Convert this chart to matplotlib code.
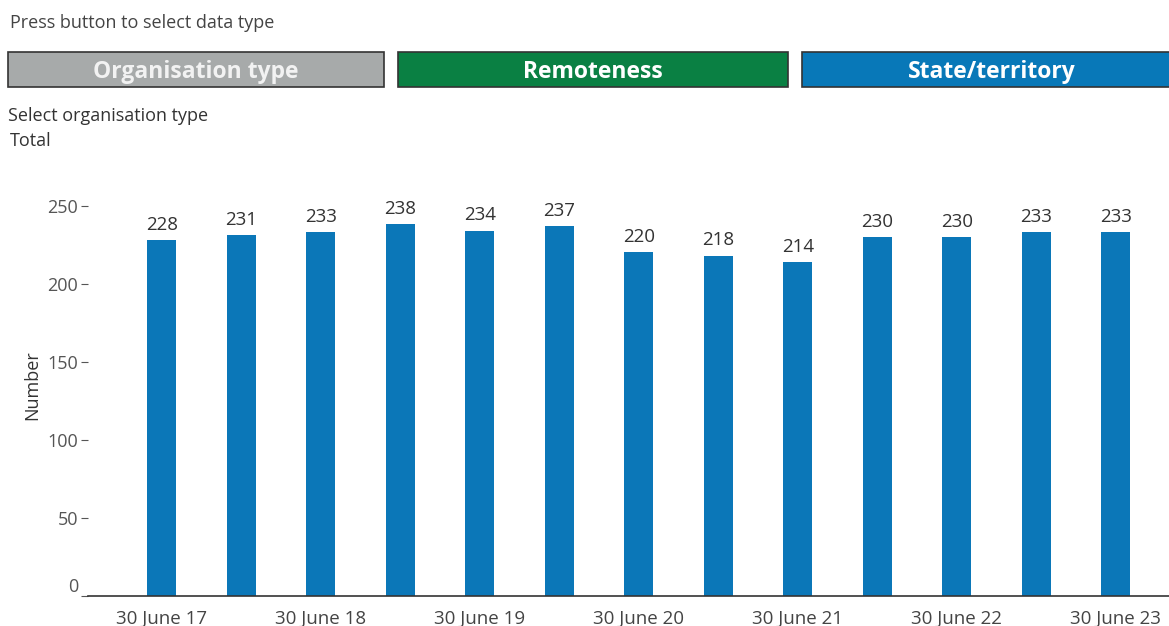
import matplotlib.pyplot as plt
from matplotlib.patches import Rectangle

# half-yearly counts, labelled at each June
values = [228, 231, 233, 238, 234, 237, 220, 218, 214, 230, 230, 233, 233]
june_labels = ["30 June 17", "30 June 18", "30 June 19", "30 June 20",
               "30 June 21", "30 June 22", "30 June 23"]
y_ticks = [0, 50, 100, 150, 200, 250]

buttons = ["Organisation type", "Remoteness", "State/territory"]
button_colors = ["#a7aaaa", "#0a8043", "#0878b8"]

plt.rcParams['font.family'] = ['Open Sans', 'DejaVu Sans']

W, H = 1169, 626
fig = plt.figure(figsize=(W / 100, H / 100), dpi=100)


def px(x, y):
    return x / W, 1 - y / H


# header text
fig.text(*px(10, 23), "Press button to select data type", fontsize=13,
         color="#444444", va="center")

# selector buttons
boxes = [(8, 52, 376, 35), (398, 52, 390, 35), (802, 52, 380, 35)]
for (bx, by, bw, bh), name, col in zip(boxes, buttons, button_colors):
    x0, y1 = px(bx, by + bh)
    fig.patches.append(Rectangle((x0, y1), bw / W, bh / H, transform=fig.transFigure,
                                 facecolor=col, edgecolor="#333333", linewidth=1.2))
    tcol = "#f2f2f2" if name == "Organisation type" else "#ffffff"
    fig.text(*px(bx + bw / 2, by + bh / 2 + 2), name, fontsize=16.5, fontweight="bold",
             color=tcol, ha="center", va="center")

fig.text(*px(8, 116), "Select organisation type", fontsize=13, color="#333333", va="center")
fig.text(*px(10, 141), "Total", fontsize=13, color="#333333", va="center")

# bar chart
ax = fig.add_axes([88 / W, 30 / H, (W - 88) / W, 406 / H])
x = list(range(len(values)))
bars = ax.bar(x, values, width=0.365, color="#0b77b8")
for xi, v in zip(x, values):
    ax.text(xi, v + 4, str(v), ha="center", va="bottom", fontsize=13.5, color="#333333")

ax.set_xlim(-0.93, 12.67)
ax.set_ylim(0, 260)
ax.set_xticks(x[::2])
ax.set_xticklabels(june_labels, fontsize=13.5, color="#444444")
ax.set_yticks(y_ticks)
ax.set_yticklabels([str(t) for t in y_ticks], fontsize=13, color="#555555")
ax.tick_params(axis="x", length=0, pad=10)
ax.tick_params(axis="y", length=5, width=0.8, color="#555555", pad=2)
for lab in ax.get_yticklabels():
    if lab.get_text() == "0":
        lab.set_va("bottom")

for s in ["top", "right", "left"]:
    ax.spines[s].set_visible(False)
ax.spines["bottom"].set_color("#333333")
ax.spines["bottom"].set_linewidth(1.2)

fig.text(*px(32, 385), "Number", rotation=90, fontsize=13, color="#333333",
         ha="center", va="center")

fig.savefig("out.png", dpi=100)
